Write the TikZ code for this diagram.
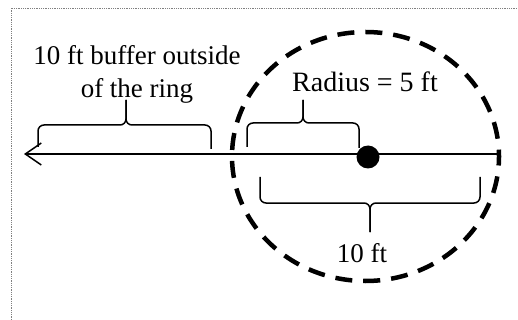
\documentclass[tikz,border=0pt]{standalone}
\usepackage{fontspec}
\setmainfont{Liberation Serif}
\usetikzlibrary{arrows.meta}
\begin{document}
\begin{tikzpicture}[x=1pt,y=-1pt,
  lbl/.style={font=\fontsize{27}{33}\selectfont,inner sep=0pt,anchor=base,align=center},
  bracepath/.style={line width=1.5pt,rounded corners=6pt},
  ring/.style={line width=4.5pt,dash pattern=on 17pt off 11pt,dash phase=8pt}]
\useasboundingbox (0,0) rectangle (518,320);
\draw[gray,densely dotted,line width=0.8pt] (11,320)--(11,8)--(518,8);
% ring and centre line
\coordinate (ctr) at (365.5,156.5);
\draw[ring] (ctr) ellipse [x radius=133.5,y radius=124.5];
\coordinate (tip) at (24,154);\coordinate (rim) at (499,154);
\draw[line width=2pt,{Straight Barb[length=16pt,width=22pt,line width=1.5pt]}-] (tip) -- (rim);
\node (hub) at (368,157) [circle,fill,inner sep=0pt,minimum size=23pt] {};
% braces
\coordinate (bufftop) at (126,125);\coordinate (radtop) at (303,123);\coordinate (diamtop) at (370,203);
\draw[bracepath] (38,147) |- (bufftop) -- (126,100);
\draw[bracepath] (211,149) |- (bufftop) -- (126,100);
\draw[bracepath] (247,147) |- (radtop) -- (303,100);
\draw[bracepath] (359,148) |- (radtop) -- (303,100);
\draw[bracepath] (260,177) |- (diamtop) -- (370,232);
\draw[bracepath] (480,177) |- (diamtop) -- (370,232);
% labels
\node[lbl] (buffer) at (137,98) {10 ft buffer outside\\of the ring};
\node[lbl,font=\fontsize{28}{33}\selectfont] (radius) at (365,92) {Radius = 5 ft};
\node[lbl] (diam) at (362,262) {10 ft};
\end{tikzpicture}
\end{document}
